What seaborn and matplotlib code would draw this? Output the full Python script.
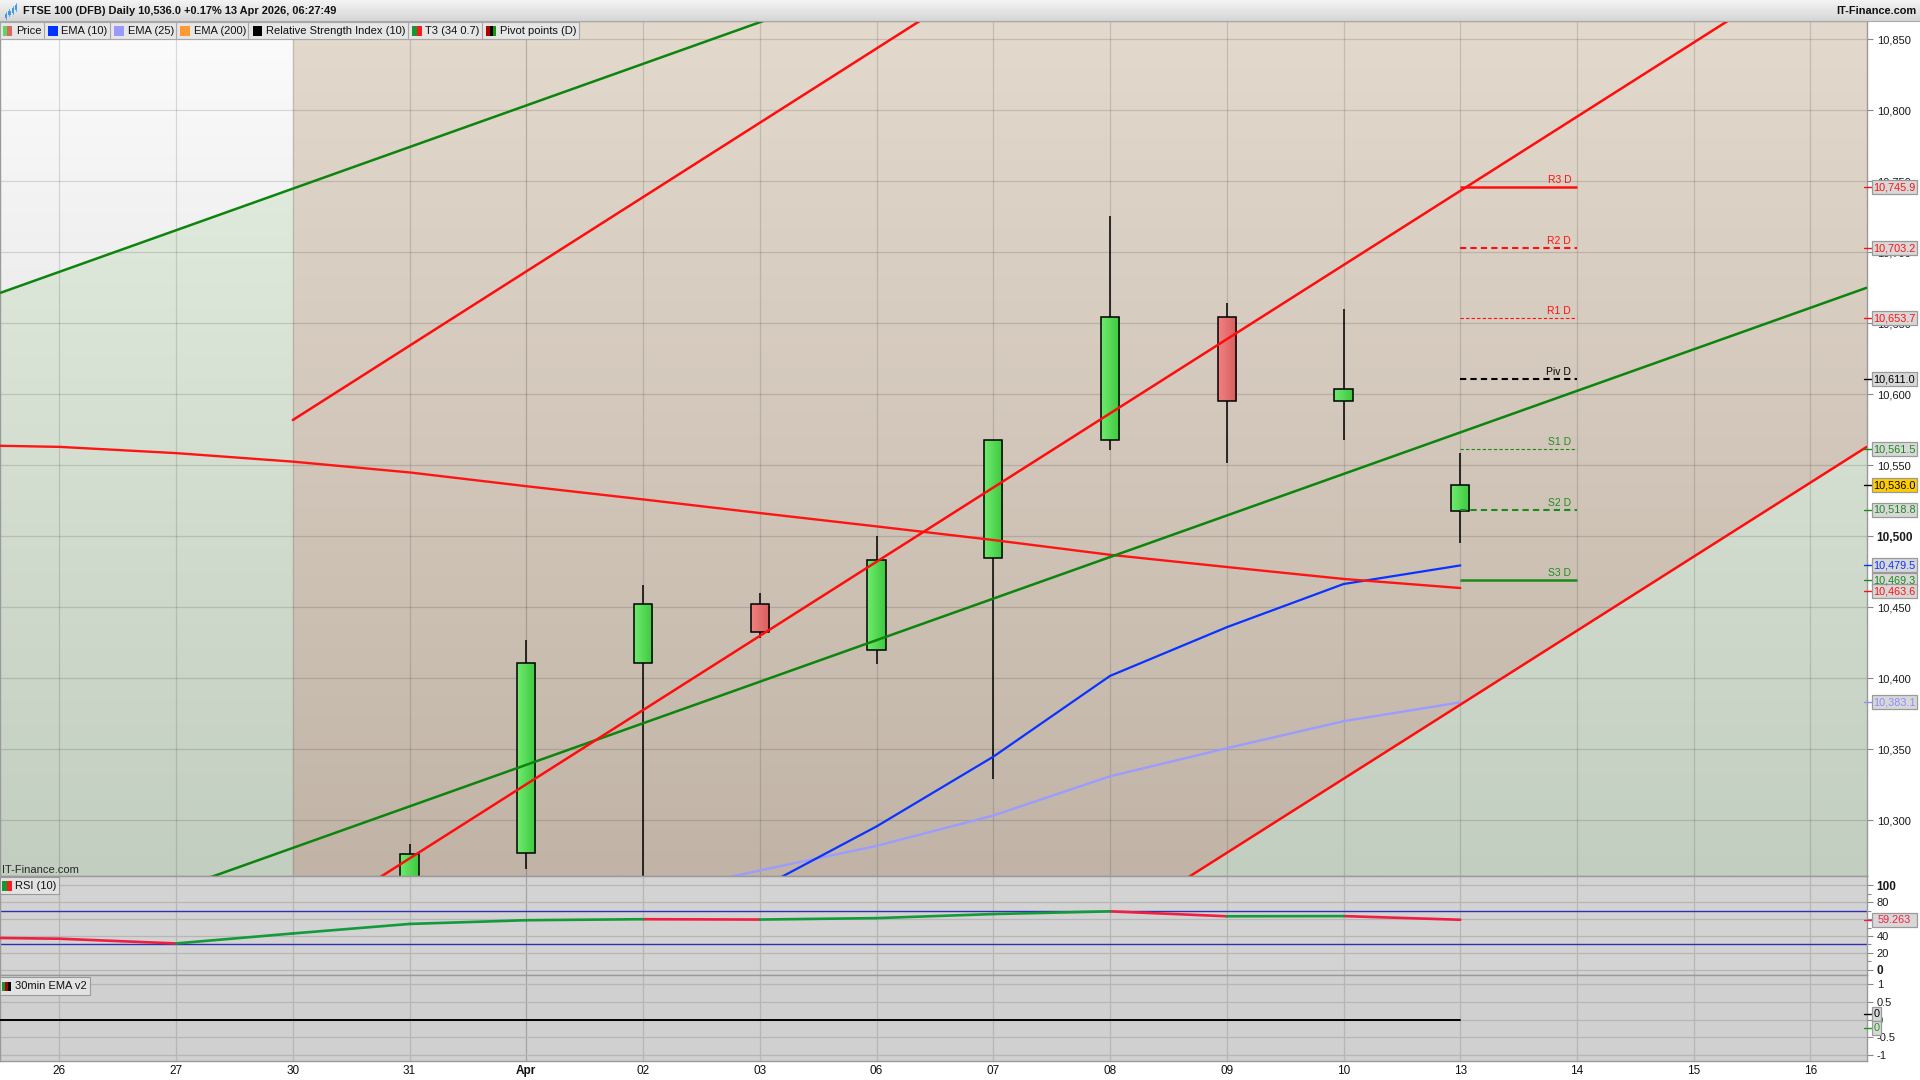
import numpy as np
import pandas as pd
import matplotlib
matplotlib.use("Agg")
import matplotlib.pyplot as plt
import seaborn as sns
from matplotlib.patches import Polygon, Rectangle
from matplotlib.colors import to_rgb
from matplotlib import font_manager

# ---------------- data ----------------
day_labels = ["26", "27", "30", "31", "Apr", "02", "03", "06", "07", "08", "09", "10", "13", "14", "15", "16"]
day_index = list(range(16))

candle_idx = [3, 4, 5, 6, 7, 8, 9, 10, 11, 12]
candle_open = [10240.0, 10277.0, 10411.0, 10452.6, 10419.8, 10484.5, 10567.6, 10654.2, 10595.0, 10518.0]
candle_high = [10283.0, 10427.0, 10466.0, 10460.3, 10500.0, 10568.0, 10725.6, 10664.0, 10660.0, 10558.5]
candle_low = [10228.0, 10265.5, 10235.0, 10428.5, 10410.3, 10329.0, 10561.0, 10551.8, 10568.0, 10495.5]
candle_close = [10276.0, 10411.0, 10452.6, 10432.8, 10483.6, 10567.6, 10654.2, 10595.0, 10604.0, 10536.0]

ema10_idx = [6, 7, 8, 9, 10, 11, 12]
ema10_val = [10252.0, 10295.7, 10344.8, 10401.7, 10436.0, 10466.4, 10479.5]

ema25_idx = [5, 6, 7, 8, 9, 10, 11, 12]
ema25_val = [10247.0, 10264.7, 10282.0, 10303.4, 10331.0, 10350.8, 10369.8, 10383.1]

t3_idx = [-1, 0, 1, 2, 3, 4, 5, 6, 7, 8, 9, 10, 11, 12]
t3_val = [10564.5, 10563.0, 10558.6, 10552.6, 10545.0, 10535.3, 10526.0, 10516.4,
          10507.0, 10497.4, 10487.0, 10478.4, 10470.0, 10463.6]

rsi_idx = [-1, 0, 1, 2, 3, 4, 5, 6, 7, 8, 9, 10, 11, 12]
rsi_val = [38.5, 36.8, 31.2, 43.0, 54.3, 58.7, 59.9, 59.5, 61.2, 66.0, 69.2, 63.4, 63.6, 59.263]

ema30_idx = [-1, 0, 1, 2, 3, 4, 5, 6, 7, 8, 9, 10, 11, 12]
ema30_val = [0, 0, 0, 0, 0, 0, 0, 0, 0, 0, 0, 0, 0, 0]

pivot_names = ["R3 D", "R2 D", "R1 D", "Piv D", "S1 D", "S2 D", "S3 D"]
pivot_values = [10745.9, 10703.2, 10653.7, 10611.0, 10561.5, 10518.8, 10469.3]
pivot_start, pivot_end = 12, 13

# drawn trend channel lines (day index, price)
green_upper_x, green_upper_y = [-0.5, 6.03], [10671.6, 10862.9]
green_lower_x, green_lower_y = [1.28, 15.48], [10259.5, 10675.0]
red_upper_x, red_upper_y = [2.0, 7.37], [10581.9, 10862.9]
red_mid_x, red_mid_y = [2.75, 14.29], [10260.1, 10862.9]
red_lower_x, red_lower_y = [9.674, 15.48], [10260.1, 10562.9]
channel_start = 2.0

main_ticks = [10300, 10350, 10400, 10450, 10500, 10550, 10600, 10650, 10700, 10750, 10800, 10850]
rsi_ticks = [0, 20, 40, 60, 80, 100]
ema30_ticks = [-1, -0.5, 0, 0.5, 1]
ema30_tick_labels = ["-1", "-0.5", "0", "0.5", "1"]

header_title = "FTSE 100 (DFB) Daily 10,536.0 +0.17% 13 Apr 2026, 06:27:49"
legend_names = ["Price", "EMA (10)", "EMA (25)", "EMA (200)", "Relative Strength Index (10)", "T3 (34 0.7)", "Pivot points (D)"]
legend_colors = [["#5cd65c", "#e06666"], ["#0033ff"], ["#9999ff"], ["#ff9933"], ["#000000"],
                 ["#119933", "#ff1a1a"], ["#b00000", "#000000", "#119911"]]

# value tags on right axis: (value, text colour, box colour)
main_tags = [(10745.9, "#ff1010", "#d8d8d8"), (10703.2, "#ff1010", "#d8d8d8"), (10653.7, "#ff1010", "#d8d8d8"),
             (10611.0, "#000000", "#d8d8d8"), (10561.5, "#1a8a1a", "#d8d8d8"), (10536.0, "#000000", "#ffcc00"),
             (10518.8, "#1a8a1a", "#d8d8d8"), (10479.5, "#0a33ff", "#d8d8d8"), (10469.3, "#1a8a1a", "#d8d8d8"),
             (10463.6, "#ff1010", "#d8d8d8"), (10383.1, "#8c8cff", "#d8d8d8")]

# ---------------- style ----------------
sns.set_theme(style="white")
plt.rcParams['font.family'] = ['Liberation Sans', 'DejaVu Sans']
try:
    font_manager.findfont("Liberation Sans Narrow", fallback_to_default=False)
    NARROW = "Liberation Sans Narrow"
except Exception:
    NARROW = "Liberation Sans"

W, H = 1920, 1080
fig = plt.figure(figsize=(19.2, 10.8), dpi=100)
fig.patch.set_facecolor("white")


def px_axes(x0, y0, x1, y1, **kw):
    return fig.add_axes([x0 / W, 1 - y1 / H, (x1 - x0) / W, (y1 - y0) / H], **kw)


AXR = 1867
X0, X1 = -0.508, 15.484
ax = px_axes(0, 21, AXR, 876)
ax_rsi = px_axes(0, 876, AXR, 975)
ax_e = px_axes(0, 975, AXR, 1061)
hdr = px_axes(0, 0, W, 21)

MAIN_Y = (10260.8, 10862.9)
RSI_Y = (-6.2, 111.1)
E_Y = (-1.169, 1.254)


def gradient(axis, top, bottom, ylim, poly=None, z=-5):
    c1, c2 = np.array(to_rgb(top)), np.array(to_rgb(bottom))
    t = np.linspace(0, 1, 256)[:, None]
    img = (c1 * (1 - t) + c2 * t)[:, None, :]
    im = axis.imshow(img, extent=[X0 - 1, X1 + 1, ylim[0], ylim[1]], origin="upper",
                     aspect="auto", interpolation="bilinear", zorder=z)
    if poly is not None:
        p = Polygon(poly, closed=True, transform=axis.transData)
        im.set_clip_path(p)
    return im


def line_at(xs, ys, x):
    s = (ys[1] - ys[0]) / (xs[1] - xs[0])
    return ys[0] + s * (x - xs[0])


# ---- main panel backgrounds ----
gradient(ax, "#e6f0e3", "#c2cec0", MAIN_Y)
wx = [X0 - 1, channel_start]
gradient(ax, "#fcfcfc", "#cfcfcf", MAIN_Y,
         poly=[(wx[0], line_at(green_upper_x, green_upper_y, wx[0])),
               (wx[1], line_at(green_upper_x, green_upper_y, wx[1])),
               (wx[1], 12000), (wx[0], 12000)])
bx = [channel_start, X1 + 1]
gradient(ax, "#e3d9cd", "#c1b4a7", MAIN_Y,
         poly=[(bx[0], line_at(red_lower_x, red_lower_y, bx[0])),
               (bx[1], line_at(red_lower_x, red_lower_y, bx[1])),
               (bx[1], 12000), (bx[0], 12000)])

# ---- candles ----
ups = [c >= o for o, c in zip(candle_open, candle_close)]
ax.vlines(candle_idx, candle_low, candle_high, color="black", linewidth=1.1, zorder=2.0)
bodies = ax.bar(candle_idx, [abs(c - o) for o, c in zip(candle_open, candle_close)],
                bottom=[min(o, c) for o, c in zip(candle_open, candle_close)],
                width=0.155, color="none", edgecolor="black", linewidth=1.1, zorder=2.3)
for rect, up in zip(bodies, ups):
    light, dark = (("#6eea6e", "#3fc93f") if up else ("#f28080", "#d65e5e"))
    c1, c2 = np.array(to_rgb(light)), np.array(to_rgb(dark))
    t = np.linspace(0, 1, 16)[None, :, None]
    img = c1 * (1 - t) + c2 * t
    x0, w = rect.get_x(), rect.get_width()
    y0, h = rect.get_y(), rect.get_height()
    im = ax.imshow(img, extent=[x0, x0 + w, y0, y0 + h], aspect="auto",
                   interpolation="bilinear", zorder=2.2)
    im.set_clip_path(rect)

# ---- indicator lines ----
sns.lineplot(x=ema25_idx, y=ema25_val, ax=ax, color="#9c9cff", linewidth=1.7, zorder=2.8)
sns.lineplot(x=ema10_idx, y=ema10_val, ax=ax, color="#0a33ff", linewidth=1.6, zorder=2.9)
sns.lineplot(x=t3_idx, y=t3_val, ax=ax, color="#ff1414", linewidth=1.7, zorder=2.9)

for xs, ys, col in [(green_upper_x, green_upper_y, "#0d850d"), (green_lower_x, green_lower_y, "#0d850d"),
                    (red_upper_x, red_upper_y, "#ff0d0d"), (red_mid_x, red_mid_y, "#ff0d0d"),
                    (red_lower_x, red_lower_y, "#ff0d0d")]:
    sns.lineplot(x=xs, y=ys, ax=ax, color=col, linewidth=1.8, zorder=3.0)

# ---- pivots ----
piv_styles = [("#ff1010", "-", 1.8), ("#ff1010", (0, (3, 2)), 1.5), ("#ff1010", (0, (3, 2)), 0.8),
              ("#000000", (0, (3, 2)), 1.5), ("#1a8a1a", (0, (3, 2)), 0.8), ("#1a8a1a", (0, (3, 2)), 1.5),
              ("#1a8a1a", "-", 1.8)]
for name, v, (col, ls, lw) in zip(pivot_names, pivot_values, piv_styles):
    ax.hlines(v, pivot_start, pivot_end, colors=col, linestyles=[ls], linewidth=lw, zorder=3.1)
    ax.text(pivot_end - 0.05, v + 1.3, name, ha="right", va="bottom", fontsize=7.5,
            color=col if col != "#1a8a1a" else "#228b22", zorder=3.2)

# ---- RSI panel ----
ax_rsi.set_facecolor("#d3d3d3")
rows = []
for k in range(len(rsi_idx) - 1):
    d = "up" if rsi_val[k + 1] >= rsi_val[k] else "down"
    rows.append((k, rsi_idx[k], rsi_val[k], d))
    rows.append((k, rsi_idx[k + 1], rsi_val[k + 1], d))
rsi_df = pd.DataFrame(rows, columns=["seg", "x", "y", "dir"])
ax_rsi.axhline(70, color="#2f2fb0", linewidth=1.0, zorder=2)
ax_rsi.axhline(30, color="#2f2fb0", linewidth=1.0, zorder=2)
sns.lineplot(data=rsi_df, x="x", y="y", hue="dir", units="seg", estimator=None, sort=False,
             palette={"up": "#139a3b", "down": "#f01e42"}, linewidth=1.9, legend=False, ax=ax_rsi, zorder=3)

# ---- 30min EMA panel ----
ax_e.set_facecolor("#d0d0d0")
sns.lineplot(x=ema30_idx, y=ema30_val, ax=ax_e, color="black", linewidth=1.4, zorder=3)

# ---- axes cosmetics ----
for a, ylim in [(ax, MAIN_Y), (ax_rsi, RSI_Y), (ax_e, E_Y)]:
    a.set_xlim(X0, X1)
    a.set_ylim(*ylim)
    a.set_axisbelow(True)
    a.set_xlabel("")
    a.set_ylabel("")
    a.set_xticks(day_index)
    a.yaxis.tick_right()
    a.tick_params(axis="y", which="both", right=True, left=False, length=4, width=0.8, pad=3,
                  color="#888888", labelsize=8, labelcolor="#1a1a1a")
    a.tick_params(axis="x", length=0)
    for sp in a.spines.values():
        sp.set_color("#9a9a9a")
        sp.set_linewidth(1.0)

ax.grid(True, axis="both", color="black", alpha=0.13, linewidth=0.9)
ax_rsi.grid(True, axis="both", color="#b6b6b6", linewidth=0.9)
ax_e.grid(True, axis="both", color="#b6b6b6", linewidth=0.9)

ax.set_yticks(main_ticks, [f"{v:,}" for v in main_ticks])
ax_rsi.set_yticks(rsi_ticks, [str(v) for v in rsi_ticks])
ax_rsi.set_yticks([10, 30, 50, 70, 90], minor=True)
ax_rsi.tick_params(axis="y", which="minor", length=3, color="#888888")
ax_rsi.grid(False, which="minor")
ax_e.set_yticks(ema30_ticks, ema30_tick_labels)

for lab in ax.get_yticklabels():
    if lab.get_text() == "10,500":
        lab.set_fontweight("bold")
        lab.set_fontsize(8.5)
for lab in ax_rsi.get_yticklabels():
    if lab.get_text() in ("0", "100"):
        lab.set_fontweight("bold")
        lab.set_fontsize(8.5)

ax.tick_params(axis="x", labelbottom=False)
ax_rsi.tick_params(axis="x", labelbottom=False)
ax_e.set_xticklabels(day_labels, fontfamily=NARROW, fontsize=8.5, color="#111111")
ax_e.tick_params(axis="x", pad=3)
for lab in ax_e.get_xticklabels():
    if lab.get_text() == "Apr":
        lab.set_fontweight("bold")
# month boundary gridline slightly darker
ax.get_xgridlines()[4].set_alpha(0.18)
ax_rsi.get_xgridlines()[4].set_color("#a4a4a4")
ax_e.get_xgridlines()[4].set_color("#a4a4a4")

# ---- header ----
hdr.set_axis_off()
hdr.imshow(np.linspace(np.array(to_rgb("#f4f4f4")), np.array(to_rgb("#d6d6d6")), 64)[:, None, :],
           extent=[0, 1, 0, 1], aspect="auto", origin="upper")
hdr.set_xlim(0, 1)
hdr.set_ylim(0, 1)

# ---- overlay (pixel coordinates, origin top-left) ----
ov = fig.add_axes([0, 0, 1, 1], zorder=20)
ov.set_xlim(0, W)
ov.set_ylim(H, 0)
ov.set_axis_off()
ov.patch.set_alpha(0)

ov.plot([0, W], [21, 21], color="#a8a8a8", linewidth=0.8)
ov.text(22.7, 11.5, header_title, fontsize=7.9, fontweight="bold", va="center", ha="left", color="#111111")
ov.text(1916.5, 11.5, "IT-Finance.com", fontsize=7.9, fontweight="bold", va="center", ha="right", color="#111111")
# small icon
for k, (yt, yb) in enumerate([(12, 19), (9, 16), (6, 14), (3, 11)]):
    xk = 5 + k * 3.3
    ov.add_patch(Rectangle((xk, yt + 2), 2.2, yb - yt - 3, facecolor="#3d9be9", edgecolor="none"))
    ov.plot([xk + 1.1, xk + 1.1], [yt, yb], color="#3d9be9", linewidth=0.6)

renderer = fig.canvas.get_renderer()

# legend row
x = 2.7
seps = []
for name, cols in zip(legend_names, legend_colors):
    n = len(cols)
    for k, c in enumerate(cols):
        ov.add_patch(Rectangle((x + k * 9.5 / n, 26), 9.5 / n, 9.5, facecolor=c, edgecolor="none", zorder=3))
    t = ov.text(x + 13.3, 30.8, name, fontsize=8, va="center", ha="left", color="#111111", zorder=3)
    bb = t.get_window_extent(renderer)
    sep = bb.x1 + 2.4
    seps.append(sep)
    x = sep + 4.2
ov.add_patch(Rectangle((0, 22), seps[-1], 17.3, facecolor="#e6e6e6", edgecolor="#a8a8a8", linewidth=0.8, zorder=2))
for s in seps[:-1]:
    ov.plot([s, s], [22, 39.3], color="#a8a8a8", linewidth=0.8, zorder=2.5)


def label_box(x0, y0, name, cols):
    n = len(cols)
    for k, c in enumerate(cols):
        ov.add_patch(Rectangle((x0 + 2 + k * 9.5 / n, y0 + 4.3), 9.5 / n, 9.5, facecolor=c, edgecolor="none", zorder=3))
    t = ov.text(x0 + 15, y0 + 9, name, fontsize=8, va="center", ha="left", color="#111111", zorder=3)
    bb = t.get_window_extent(renderer)
    ov.add_patch(Rectangle((x0, y0), bb.x1 + 3 - x0, 17.5, facecolor="#e2e2e2", edgecolor="#9a9a9a",
                           linewidth=0.8, zorder=2))


label_box(0, 876.8, "RSI (10)", ["#119933", "#ff1a1a"])
label_box(0, 977.2, "30min EMA v2", ["#119933", "#b00000", "#000000"])

ov.text(2, 870, "IT-Finance.com", fontsize=8, va="center", ha="left", color="#2a2a2a")


def ypx(axis, v):
    return H - axis.transData.transform((0, v))[1]


def tag(yc, text, tcol, fcol, width=45.5):
    ov.plot([1864, 1871.5], [yc, yc], color=tcol, linewidth=1.0, zorder=4)
    ov.add_patch(Rectangle((1871.5, yc - 7.0), width, 14.0, facecolor=fcol, edgecolor="#9a9a9a",
                           linewidth=0.9, zorder=5))
    ov.text(1871.5 + width / 2, yc + 0.3, text, fontsize=7.8, color=tcol, ha="center", va="center", zorder=6)


prev = -1e9
for v, tc, fc in sorted(main_tags, key=lambda r: -r[0]):
    yc = ypx(ax, v)
    if yc < prev + 11.5:
        yc = prev + 11.5
    prev = yc
    tag(yc, f"{v:,.1f}", tc, fc)

tag(ypx(ax_rsi, rsi_val[-1]), f"{rsi_val[-1]:.3f}", "#f01e42", "#d8d8d8")
y0e = ypx(ax_e, ema30_val[-1])
tag(y0e - 6, "0", "#000000", "#d8d8d8", width=9.5)
tag(y0e + 8.5, "0", "#1a9a1a", "#d8d8d8", width=9.5)

fig.savefig("out.png", dpi=100, facecolor=fig.get_facecolor())
